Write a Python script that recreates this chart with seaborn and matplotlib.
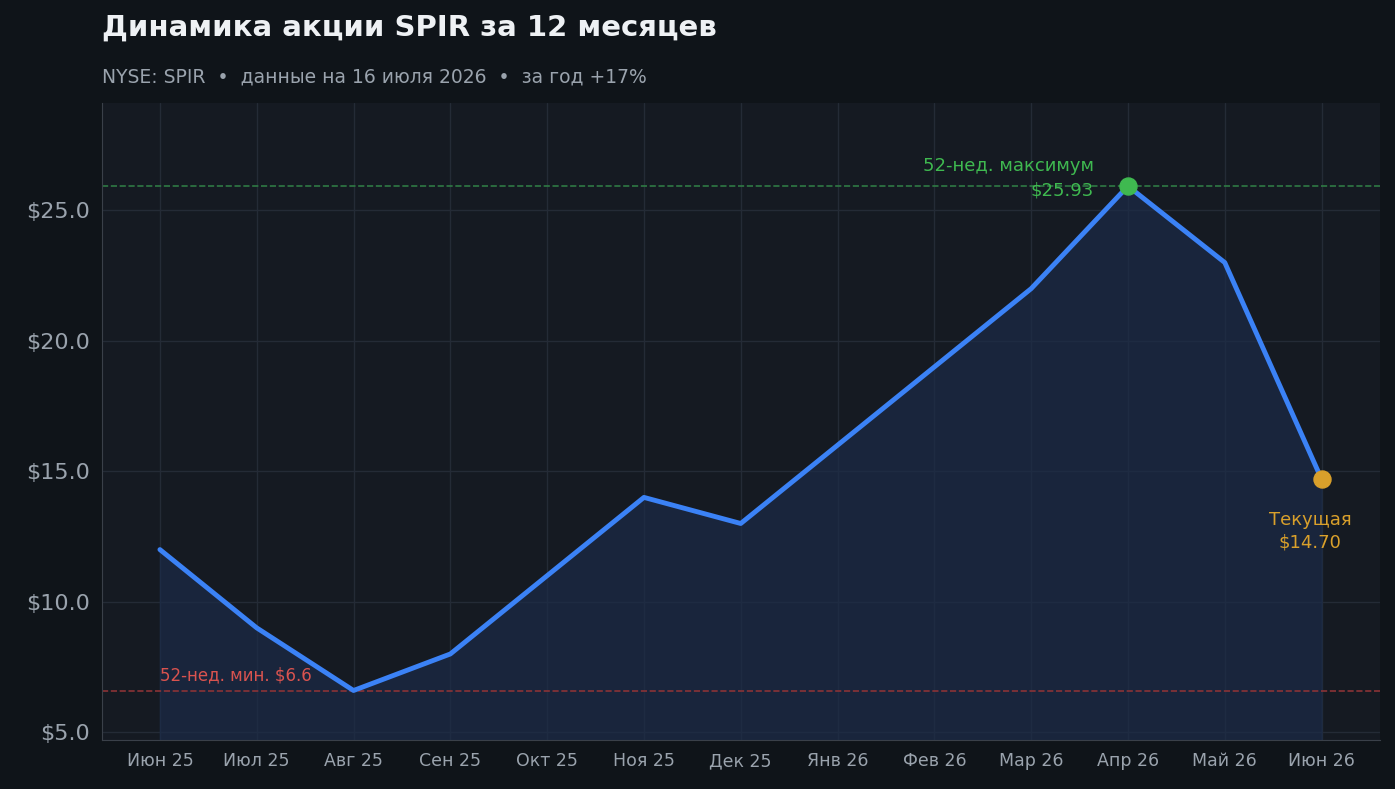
import numpy as np
import pandas as pd
import matplotlib
matplotlib.use("Agg")
import matplotlib.pyplot as plt
import seaborn as sns

# data
months = ["Июн 25", "Июл 25", "Авг 25", "Сен 25", "Окт 25", "Ноя 25", "Дек 25",
          "Янв 26", "Фев 26", "Мар 26", "Апр 26", "Май 26", "Июн 26"]
prices = [12.0, 9.0, 6.6, 8.0, 11.0, 14.0, 13.0, 16.0, 19.0, 22.0, 25.93, 23.0, 14.7]
high_52 = 25.93
low_52 = 6.6

df = pd.DataFrame({"idx": np.arange(len(months)), "price": prices})

sns.set_style("dark")
plt.rcParams["font.family"] = ["DejaVu Sans"]

fig = plt.figure(figsize=(13.95, 7.89), dpi=100, facecolor="#0f1419")
ax = fig.add_axes([0.073, 0.062, 0.916, 0.807])
ax.set_facecolor("#151a22")

ax.fill_between(df["idx"], df["price"], 4.7, color="#1c2b48", alpha=0.7, zorder=1)
sns.lineplot(data=df, x="idx", y="price", ax=ax, color="#3b82f6", linewidth=3.5, zorder=3)

ax.axhline(high_52, color="#2f7a44", linestyle="--", linewidth=1.2, zorder=2)
ax.axhline(low_52, color="#8a3336", linestyle="--", linewidth=1.2, zorder=2)

imax = int(np.argmax(prices))
ax.scatter([imax], [prices[imax]], s=150, color="#3fb950", zorder=4)
ax.scatter([len(prices) - 1], [prices[-1]], s=150, color="#d9a02b", zorder=4)

ax.text(imax - 0.35, high_52 + 0.3, f"52-нед. максимум\n${high_52:.2f}", color="#3fb950",
        fontsize=13, ha="right", va="center", linespacing=1.4)
ax.text(len(prices) - 1 - 0.12, prices[-1] - 2.0, f"Текущая\n${prices[-1]:.2f}", color="#d9a02b",
        fontsize=13, ha="center", va="center", linespacing=1.3)
ax.text(0, low_52 + 0.25, f"52-нед. мин. ${low_52}", color="#d9534f", fontsize=12,
        ha="left", va="bottom")

ax.set_xlim(-0.6, len(months) - 1 + 0.6)
ax.set_ylim(4.7, 29.1)
ax.set_xticks(df["idx"])
ax.set_xticklabels(months)
ax.set_yticks([5, 10, 15, 20, 25])
ax.set_yticklabels([f"${v:.1f}" for v in [5, 10, 15, 20, 25]])
ax.tick_params(axis="x", colors="#9aa3ad", labelsize=12.5, length=5, color="#555c66")
ax.tick_params(axis="y", colors="#9aa3ad", labelsize=16, length=5, color="#555c66")
ax.set_xlabel("")
ax.set_ylabel("")
ax.grid(True, color="#242b36", linewidth=1)
for side in ["top", "right"]:
    ax.spines[side].set_visible(False)
for side in ["left", "bottom"]:
    ax.spines[side].set_color("#3a4049")

fig.text(0.073, 0.965, "Динамика акции SPIR за 12 месяцев", color="#eef1f4",
         fontsize=21, fontweight="bold", ha="left", va="center")
fig.text(0.073, 0.902, "NYSE: SPIR  •  данные на 16 июля 2026  •  за год +17%",
         color="#9aa3ad", fontsize=13.5, ha="left", va="center")

fig.savefig("out.png", dpi=100, facecolor=fig.get_facecolor())
